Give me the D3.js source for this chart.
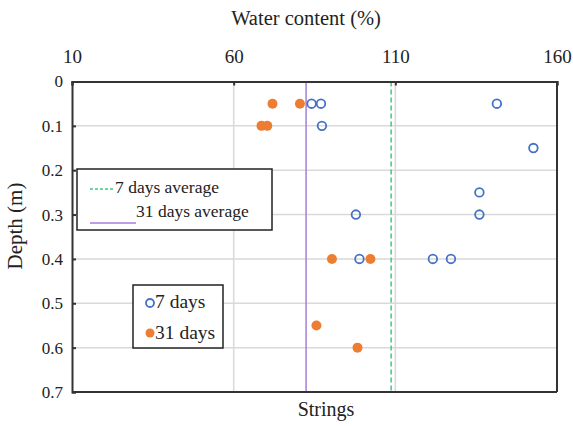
<!DOCTYPE html>
<html><head><meta charset="utf-8">
<script src="https://cdn.jsdelivr.net/npm/d3@7"></script>
<style>body{margin:0;background:#fff}svg{display:block}text{font-family:"Liberation Serif","Times New Roman",serif;fill:#222}</style>
</head><body><svg id="c" width="573" height="426"></svg>
<script>
const xTicks = [10, 60, 110, 160];
const yTicks = [0, 0.1, 0.2, 0.3, 0.4, 0.5, 0.6, 0.7];
const days7Water = [84.1, 87.0, 141.4, 87.3, 152.7, 136.0, 97.8, 136.0, 98.9, 121.6, 127.2];
const days7Depth = [0.05, 0.05, 0.05, 0.1, 0.15, 0.25, 0.3, 0.3, 0.4, 0.4, 0.4];
const days31Water = [72.0, 80.5, 68.6, 70.4, 90.4, 102.3, 85.6, 98.3];
const days31Depth = [0.05, 0.05, 0.1, 0.1, 0.4, 0.4, 0.55, 0.6];
const avg7 = 108.7;
const avg31 = 82.4;

const svg = d3.select("#c");
const L = 72, R = 557, T = 81.5, B = 392;
const x = d3.scaleLinear().domain([10, 160]).range([L, R]);
const y = d3.scaleLinear().domain([0, 0.7]).range([T, B]);

// grid
svg.append("g").selectAll("line").data(xTicks.filter(d => d > 10 && d < 160)).join("line")
  .attr("x1", d => x(d)).attr("x2", d => x(d)).attr("y1", T).attr("y2", B)
  .attr("stroke", "#d9d9d9").attr("stroke-width", 1.5);
svg.append("g").selectAll("line").data(yTicks.filter(d => d > 0 && d < 0.7)).join("line")
  .attr("x1", L).attr("x2", R).attr("y1", d => y(d)).attr("y2", d => y(d))
  .attr("stroke", "#d9d9d9").attr("stroke-width", 1.5);

// average lines
svg.append("line").attr("x1", x(avg31)).attr("x2", x(avg31)).attr("y1", T).attr("y2", B)
  .attr("stroke", "#a57fd6").attr("stroke-width", 1.5);
svg.append("line").attr("x1", x(avg7)).attr("x2", x(avg7)).attr("y1", T).attr("y2", B)
  .attr("stroke", "#3ec97f").attr("stroke-width", 1.5).attr("stroke-dasharray", "5,3");

// axes
const xAxis = d3.axisTop(x).tickValues(xTicks).tickSize(-4).tickPadding(19).tickFormat(d3.format("d"));
const gx = svg.append("g").attr("transform", `translate(0,${T})`).call(xAxis);
gx.select(".domain").attr("stroke", "#333").attr("stroke-width", 2);
gx.selectAll(".tick line").attr("stroke", "#333").attr("stroke-width", 2);
gx.selectAll("text").attr("font-size", 19).style("font-family", "Liberation Serif").attr("fill", "#222");

const yAxis = d3.axisLeft(y).tickValues(yTicks).tickSize(-4).tickPadding(9).tickFormat(d => d === 0 ? "0" : d3.format(".1f")(d));
const gy = svg.append("g").attr("transform", `translate(${L},0)`).call(yAxis);
gy.select(".domain").attr("stroke", "#333").attr("stroke-width", 2);
gy.selectAll(".tick line").attr("stroke", "#333").attr("stroke-width", 2);
gy.selectAll("text").attr("font-size", 17).style("font-family", "Liberation Serif").attr("fill", "#222");

// right and bottom frame
svg.append("line").attr("x1", R).attr("x2", R).attr("y1", T).attr("y2", B).attr("stroke", "#333").attr("stroke-width", 2);
svg.append("line").attr("x1", L).attr("x2", R).attr("y1", B).attr("y2", B).attr("stroke", "#333").attr("stroke-width", 2);

// points
svg.append("g").selectAll("circle").data(days31Water).join("circle")
  .attr("cx", d => x(d)).attr("cy", (d, i) => y(days31Depth[i])).attr("r", 5)
  .attr("fill", "#ed7d31");
svg.append("g").selectAll("circle").data(days7Water).join("circle")
  .attr("cx", d => x(d)).attr("cy", (d, i) => y(days7Depth[i])).attr("r", 4.3)
  .attr("fill", "none").attr("stroke", "#4472c4").attr("stroke-width", 1.8);

// titles
svg.append("text").attr("x", 306).attr("y", 25).attr("text-anchor", "middle").attr("font-size", 20.5).text("Water content (%)");
svg.append("text").attr("x", 326).attr("y", 416).attr("text-anchor", "middle").attr("font-size", 20).text("Strings");
svg.append("text").attr("transform", "translate(22,226) rotate(-90)").attr("text-anchor", "middle").attr("font-size", 21).text("Depth (m)");

// legend 1
const lg1 = svg.append("g");
lg1.append("rect").attr("x", 77).attr("y", 169).attr("width", 195).attr("height", 61).attr("fill", "#fff").attr("stroke", "#222").attr("stroke-width", 1.5);
lg1.append("line").attr("x1", 90).attr("x2", 114).attr("y1", 189).attr("y2", 189).attr("stroke", "#3ec97f").attr("stroke-width", 1.5).attr("stroke-dasharray", "3,2");
lg1.append("text").attr("x", 115).attr("y", 193).attr("font-size", 17.5).text("7 days average");
lg1.append("line").attr("x1", 90).attr("x2", 136).attr("y1", 223).attr("y2", 223).attr("stroke", "#a57fd6").attr("stroke-width", 1.5);
lg1.append("text").attr("x", 136).attr("y", 217).attr("font-size", 17.5).text("31 days average");

// legend 2
const lg2 = svg.append("g");
lg2.append("rect").attr("x", 133).attr("y", 285).attr("width", 90).attr("height", 63).attr("fill", "#fff").attr("stroke", "#222").attr("stroke-width", 1.5);
lg2.append("circle").attr("cx", 150).attr("cy", 303).attr("r", 4).attr("fill", "none").attr("stroke", "#4472c4").attr("stroke-width", 1.8);
lg2.append("text").attr("x", 155).attr("y", 308).attr("font-size", 19.5).text("7 days");
lg2.append("circle").attr("cx", 150).attr("cy", 333).attr("r", 4.5).attr("fill", "#ed7d31");
lg2.append("text").attr("x", 155).attr("y", 339).attr("font-size", 19.5).text("31 days");
</script></body></html>
